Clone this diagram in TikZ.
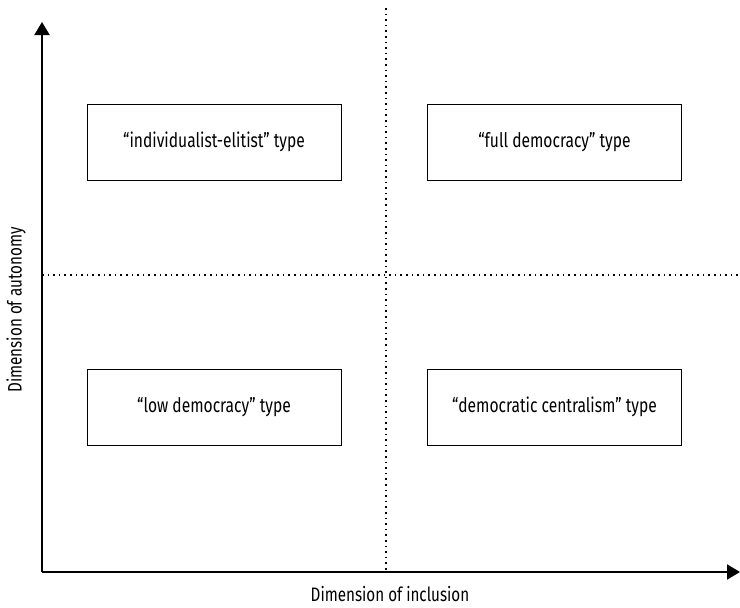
\documentclass[tikz,border=0pt]{standalone}
\usepackage{fontspec}
\setmainfont{Fira Sans}[FakeStretch=0.78]
\usetikzlibrary{arrows.meta}
\tikzset{
    typebox/.style={draw, line width=1pt, minimum width=254pt, minimum height=76pt, font=\fontsize{20}{24}\selectfont},
    axislabel/.style={font=\fontsize{19.5}{24}\selectfont},
    axis/.style={line width=2pt, -{Triangle[width=15pt,length=13pt]}},
    divider/.style={line width=1.6pt, dash pattern=on 1.6pt off 4pt}
}
\begin{document}
\begin{tikzpicture}[x=1pt, y=-1pt]
    \useasboundingbox (0,0) rectangle (740,608);

    % Axes
    \coordinate (origin) at (42,572);
    \coordinate (ytop) at (42,22);
    \coordinate (xend) at (740,572);
    \draw[axis] (origin) -- (ytop);
    \draw[axis] (origin) -- (xend);

    % Quadrant dividers
    \coordinate (vtop) at (386,8);
    \coordinate (vbot) at (386,572);
    \coordinate (hleft) at (42,275);
    \coordinate (hright) at (740,275);
    \draw[divider] (vtop) -- (vbot);
    \draw[divider] (hleft) -- (hright);

    % Types
    \node[typebox] (elitist) at (214,142) {“individualist-elitist” type};
    \node[typebox] (full) at (554.5,142) {“full democracy” type};
    \node[typebox] (low) at (214,407) {“low democracy” type};
    \node[typebox] (central) at (554.5,407) {“democratic centralism” type};

    % Axis labels
    \node[axislabel, rotate=90] (autonomy) at (16,310) {Dimension of autonomy};
    \node[axislabel] (inclusion) at (390,594) {Dimension of inclusion};
\end{tikzpicture}
\end{document}
